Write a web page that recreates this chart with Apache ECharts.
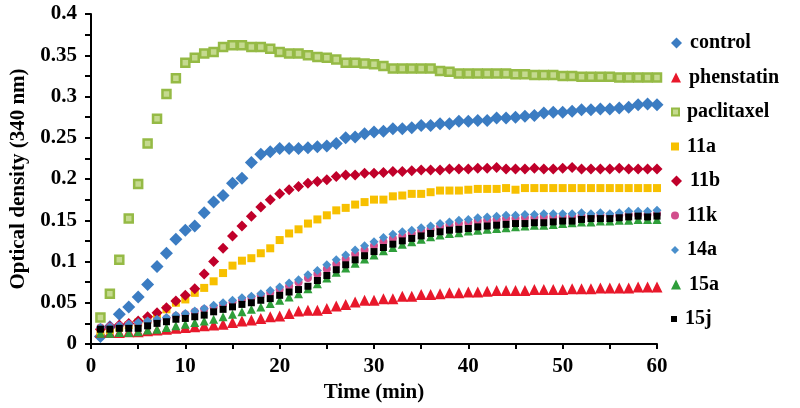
<!DOCTYPE html>
<html><head><meta charset="utf-8">
<script src="https://cdn.jsdelivr.net/npm/echarts@6/dist/echarts.min.js"></script>
</head><body style="margin:0;background:#fff">
<div id="c" style="width:800px;height:408px"></div>
<script>
const time = [1,2,3,4,5,6,7,8,9,10,11,12,13,14,15,16,17,18,19,20,21,22,23,24,25,26,27,28,29,30,
  31,32,33,34,35,36,37,38,39,40,41,42,43,44,45,46,47,48,49,50,51,52,53,54,55,56,57,58,59,60];

const control = [0.009,0.021,0.036,0.045,0.057,0.072,0.094,0.110,0.127,0.138,0.143,0.159,0.172,0.180,0.195,0.201,0.220,0.230,0.233,0.237,
  0.237,0.237,0.238,0.239,0.240,0.243,0.250,0.251,0.255,0.257,0.258,0.261,0.261,0.262,0.265,0.265,0.267,0.267,0.270,0.270,
  0.271,0.271,0.274,0.274,0.275,0.276,0.277,0.280,0.281,0.281,0.282,0.284,0.284,0.285,0.285,0.286,0.287,0.290,0.291,0.290];

const phenstatin = [0.014,0.014,0.014,0.015,0.015,0.016,0.017,0.018,0.019,0.020,0.021,0.022,0.023,0.024,0.026,0.028,0.029,0.031,0.033,0.034,
  0.037,0.040,0.041,0.041,0.043,0.046,0.048,0.051,0.053,0.053,0.055,0.055,0.058,0.058,0.060,0.060,0.061,0.062,0.062,0.063,
  0.063,0.064,0.065,0.065,0.065,0.065,0.066,0.066,0.066,0.066,0.067,0.067,0.067,0.068,0.068,0.068,0.068,0.069,0.069,0.069];

const paclitaxel = [0.032,0.061,0.102,0.152,0.194,0.243,0.273,0.303,0.322,0.341,0.347,0.352,0.354,0.360,0.362,0.362,0.360,0.360,0.358,0.354,
  0.352,0.352,0.350,0.348,0.347,0.345,0.341,0.341,0.340,0.339,0.337,0.334,0.334,0.334,0.334,0.334,0.331,0.330,0.328,0.328,
  0.328,0.328,0.328,0.328,0.327,0.327,0.326,0.326,0.326,0.325,0.325,0.324,0.324,0.324,0.324,0.323,0.323,0.323,0.323,0.323];

const s11a = [0.015,0.017,0.020,0.023,0.026,0.030,0.035,0.042,0.050,0.054,0.062,0.068,0.076,0.086,0.095,0.101,0.104,0.110,0.116,0.126,
  0.134,0.139,0.146,0.151,0.156,0.162,0.165,0.169,0.172,0.175,0.175,0.179,0.180,0.182,0.182,0.184,0.186,0.186,0.186,0.187,
  0.188,0.188,0.188,0.189,0.187,0.189,0.189,0.189,0.189,0.189,0.189,0.189,0.189,0.189,0.189,0.189,0.189,0.189,0.189,0.189];

const s11b = [0.018,0.021,0.023,0.025,0.028,0.033,0.038,0.044,0.052,0.059,0.067,0.085,0.100,0.116,0.131,0.143,0.155,0.166,0.175,0.182,
  0.187,0.191,0.195,0.197,0.199,0.203,0.205,0.205,0.207,0.207,0.208,0.209,0.209,0.210,0.211,0.211,0.211,0.212,0.212,0.212,
  0.213,0.213,0.214,0.212,0.212,0.212,0.213,0.212,0.212,0.213,0.214,0.212,0.212,0.212,0.212,0.213,0.212,0.212,0.212,0.212];

const s11k = [0.020,0.021,0.022,0.024,0.025,0.027,0.029,0.031,0.034,0.036,0.039,0.042,0.045,0.048,0.051,0.054,0.056,0.059,0.062,0.066,
  0.070,0.075,0.080,0.085,0.091,0.097,0.103,0.109,0.114,0.119,0.124,0.128,0.131,0.134,0.137,0.139,0.142,0.144,0.146,0.147,
  0.149,0.150,0.151,0.152,0.152,0.153,0.153,0.154,0.154,0.154,0.155,0.155,0.155,0.156,0.156,0.156,0.157,0.157,0.157,0.158];

const s14a = [0.020,0.021,0.022,0.024,0.026,0.028,0.030,0.032,0.035,0.037,0.040,0.043,0.047,0.050,0.053,0.056,0.058,0.061,0.065,0.069,
  0.074,0.078,0.084,0.089,0.096,0.102,0.108,0.114,0.119,0.124,0.129,0.133,0.136,0.138,0.141,0.143,0.146,0.148,0.150,0.151,
  0.153,0.154,0.155,0.156,0.156,0.157,0.157,0.158,0.158,0.158,0.158,0.159,0.158,0.159,0.158,0.159,0.161,0.161,0.161,0.162];

const s15a = [0.013,0.013,0.014,0.014,0.015,0.017,0.018,0.020,0.022,0.024,0.026,0.028,0.030,0.033,0.036,0.039,0.042,0.045,0.049,0.053,
  0.057,0.061,0.067,0.073,0.080,0.087,0.092,0.098,0.103,0.108,0.113,0.117,0.121,0.124,0.127,0.130,0.132,0.134,0.135,0.137,
  0.138,0.139,0.140,0.141,0.142,0.143,0.144,0.144,0.145,0.146,0.147,0.148,0.148,0.149,0.149,0.150,0.150,0.151,0.151,0.151];

const s15j = [0.018,0.018,0.019,0.019,0.019,0.022,0.025,0.027,0.030,0.031,0.033,0.035,0.039,0.042,0.045,0.048,0.050,0.053,0.055,0.059,
  0.063,0.066,0.070,0.077,0.083,0.090,0.096,0.102,0.107,0.112,0.117,0.121,0.125,0.128,0.131,0.134,0.136,0.138,0.139,0.140,
  0.142,0.143,0.144,0.145,0.146,0.146,0.147,0.147,0.148,0.149,0.149,0.151,0.152,0.152,0.152,0.153,0.154,0.155,0.154,0.155];

const names = ['control','phenstatin','paclitaxel','11a','11b','11k','14a','15a','15j'];
const values = [control, phenstatin, paclitaxel, s11a, s11b, s11k, s14a, s15a, s15j];

const styles = [
  {symbol:'diamond', size:13, color:'#3B7CC2', legend:11},
  {symbol:'triangle', size:11, color:'#E8182B', legend:10},
  {symbol:'rect', size:8, color:'#C5DA8F', border:'#95BA45', legend:7},
  {symbol:'rect', size:8, color:'#F7C000', legend:8},
  {symbol:'diamond', size:11, color:'#C0002A', legend:11},
  {symbol:'circle', size:8, color:'#D24E8C', legend:8},
  {symbol:'diamond', size:9, color:'#4A8FCC', legend:8},
  {symbol:'triangle', size:9, color:'#2E9E3A', legend:10},
  {symbol:'rect', size:7, color:'#000000', legend:6}
];

const FONT = 'Liberation Serif';

const series = names.map((n, i) => ({
  name: n,
  type: 'scatter',
  symbol: styles[i].symbol,
  symbolSize: styles[i].size,
  itemStyle: Object.assign({color: styles[i].color, opacity: 1},
    styles[i].border ? {borderColor: styles[i].border, borderWidth: 2.5} : {}),
  emphasis: {disabled: true},
  data: time.map((t, k) => [t, values[i][k]])
}));

const legends = names.map((n, i) => ({
  data: [n],
  left: 671,
  top: 33 + i * 34.5,
  orient: 'vertical',
  padding: 0,
  itemWidth: styles[i].legend,
  itemHeight: styles[i].legend,
  itemGap: 0,
  selectedMode: false,
  textStyle: {fontFamily: FONT, fontWeight: 'bold', fontSize: 20, color: '#000', padding: [0,0,0,3]}
}));

const chart = echarts.init(document.getElementById('c'), null, {renderer: 'canvas'});
chart.setOption({
  animation: false,
  backgroundColor: '#fff',
  grid: {left: 81, right: 143, top: 14, bottom: 64, containLabel: false},
  legend: legends,
  xAxis: {
    type: 'value', min: 0, max: 60, interval: 10,
    name: 'Time (min)', nameLocation: 'middle', nameGap: 36,
    nameTextStyle: {fontFamily: FONT, fontWeight: 'bold', fontSize: 21, color: '#000'},
    axisLine: {show: true, onZero: false, lineStyle: {color: '#000', width: 2}},
    axisTick: {show: true, length: 5, lineStyle: {color: '#000', width: 2}},
    minorTick: {show: true, splitNumber: 2, length: 5, lineStyle: {color: '#000', width: 2}},
    axisLabel: {fontFamily: FONT, fontWeight: 'bold', fontSize: 21, color: '#000', margin: 12},
    splitLine: {show: false}
  },
  yAxis: {
    type: 'value', min: 0, max: 0.4, interval: 0.05,
    name: 'Optical density (340 nm)', nameLocation: 'middle', nameGap: 62,
    nameTextStyle: {fontFamily: FONT, fontWeight: 'bold', fontSize: 21, color: '#000'},
    axisLine: {show: true, lineStyle: {color: '#000', width: 2}},
    axisTick: {show: true, length: 6, lineStyle: {color: '#000', width: 2}},
    minorTick: {show: true, splitNumber: 2, length: 6, lineStyle: {color: '#000', width: 2}},
    axisLabel: {fontFamily: FONT, fontWeight: 'bold', fontSize: 21, color: '#000', margin: 14},
    splitLine: {show: false}
  },
  series: series
});
</script>
</body></html>
